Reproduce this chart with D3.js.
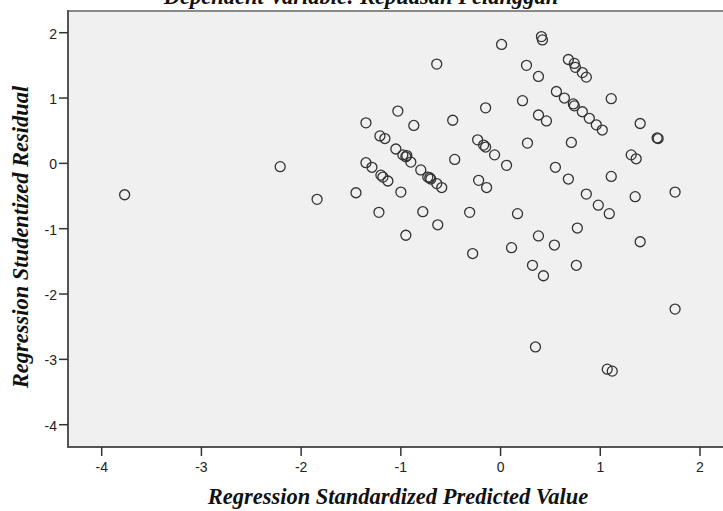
<!DOCTYPE html>
<html>
<head>
<meta charset="utf-8">
<script src="https://cdn.jsdelivr.net/npm/d3@7"></script>
<style>
  body { margin: 0; background: #fff; }
  svg { display: block; }
  .tick-label { font-family: "Liberation Sans", Arial, sans-serif; font-size: 14px; fill: #222; }
  .axis-title { font-family: "Liberation Serif", "Times New Roman", serif; font-weight: bold; font-style: italic; font-size: 22.5px; fill: #111; }
</style>
</head>
<body>
<svg id="chart" width="723" height="511"></svg>
<script>
// standardized predicted value (x) and studentized residual (y)
let predicted = [
  -3.77, -2.21, -1.84, -1.45, -1.35, -1.03, -0.87, -0.64, -0.48, -0.15,
  -1.21, -1.16, -1.05, -0.98, -0.95, -0.94, -0.90, -0.80, -0.73, -0.71, -0.70,
  -0.64, -0.59, -1.35, -1.29, -1.20, -1.18, -1.13, -1.00, -1.22,
  -0.78, -0.95, -0.63, -0.31, -0.28, -0.46, -0.23, -0.17, -0.15, -0.06,
  0.06, -0.22, -0.14, 0.01, 0.41, 0.42, 0.26, 0.38, 0.68, 0.74,
  0.75, 0.82, 0.86, 0.56, 0.64, 0.73, 0.74, 0.82, 0.89, 0.96,
  1.02, 1.11, 0.22, 0.38, 0.46, 1.40, 1.57, 1.58, 0.27, 0.71,
  1.31, 1.36, 0.55, 0.68, 1.11, 0.86, 0.98, 1.09, 1.35, 1.75,
  0.17, 0.38, 0.54, 0.11, 0.32, 0.43, 0.77, 0.76, 1.40, 1.75,
  0.35, 1.07, 1.12
];
let residual = [
  -0.48, -0.05, -0.55, -0.45, 0.62, 0.80, 0.58, 1.52, 0.66, 0.85,
  0.42, 0.38, 0.22, 0.13, 0.10, 0.12, 0.02, -0.10, -0.21, -0.22, -0.24,
  -0.31, -0.37, 0.01, -0.06, -0.18, -0.21, -0.27, -0.44, -0.75,
  -0.74, -1.10, -0.94, -0.75, -1.38, 0.06, 0.36, 0.28, 0.25, 0.13,
  -0.03, -0.26, -0.37, 1.82, 1.94, 1.89, 1.50, 1.33, 1.59, 1.53,
  1.47, 1.39, 1.32, 1.10, 1.00, 0.91, 0.88, 0.79, 0.69, 0.59,
  0.51, 0.99, 0.96, 0.74, 0.65, 0.61, 0.39, 0.38, 0.31, 0.32,
  0.13, 0.07, -0.06, -0.24, -0.20, -0.47, -0.64, -0.77, -0.51, -0.44,
  -0.77, -1.11, -1.25, -1.29, -1.56, -1.72, -0.99, -1.56, -1.20, -2.23,
  -2.81, -3.15, -3.18
];
let xTicks = [-4, -3, -2, -1, 0, 1, 2];
let yTicks = [2, 1, 0, -1, -2, -3, -4];

let titleText = 'Dependent Variable: Kepuasan Pelanggan';
let xTitle = 'Regression Standardized Predicted Value';
let yTitle = 'Regression Studentized Residual';

function ScatterPlot(svg) {
  // plot frame, right side runs past the picture edge like in the original crop
  let frame = {left: 68, top: 11, right: 732, bottom: 447};

  let x = d3.scaleLinear().domain([-4, 2]).range([101.7, 700]);
  let y = d3.scaleLinear().domain([2, -4]).range([32.7, 424.7]);

  svg.append('rect')
    .attr('x', frame.left)
    .attr('y', frame.top)
    .attr('width', frame.right - frame.left)
    .attr('height', frame.bottom - frame.top)
    .attr('fill', '#f0f0f0');

  // borders
  svg.append('line')
    .attr('x1', frame.left).attr('x2', frame.right)
    .attr('y1', frame.top).attr('y2', frame.top)
    .attr('stroke', '#8a8a8a').attr('stroke-width', 2);
  svg.append('line')
    .attr('x1', frame.left).attr('x2', frame.left)
    .attr('y1', frame.top - 1).attr('y2', frame.bottom + 1)
    .attr('stroke', '#555').attr('stroke-width', 2);
  svg.append('line')
    .attr('x1', frame.left - 1).attr('x2', frame.right)
    .attr('y1', frame.bottom).attr('y2', frame.bottom)
    .attr('stroke', '#555').attr('stroke-width', 2);

  // y axis ticks
  let yAxis = svg.append('g').attr('class', 'y-axis');
  yAxis.selectAll('line')
    .data(yTicks)
    .enter().append('line')
      .attr('x1', frame.left - 9).attr('x2', frame.left)
      .attr('y1', d => y(d)).attr('y2', d => y(d))
      .attr('stroke', '#333').attr('stroke-width', 1.5);
  yAxis.selectAll('text')
    .data(yTicks)
    .enter().append('text')
      .attr('class', 'tick-label')
      .attr('x', frame.left - 11)
      .attr('y', d => y(d) + 6)
      .attr('text-anchor', 'end')
      .text(d => d);

  // x axis ticks
  let xAxis = svg.append('g').attr('class', 'x-axis');
  xAxis.selectAll('line')
    .data(xTicks)
    .enter().append('line')
      .attr('x1', d => x(d)).attr('x2', d => x(d))
      .attr('y1', frame.bottom).attr('y2', frame.bottom + 9)
      .attr('stroke', '#333').attr('stroke-width', 1.5);
  xAxis.selectAll('text')
    .data(xTicks)
    .enter().append('text')
      .attr('class', 'tick-label')
      .attr('x', d => x(d))
      .attr('y', frame.bottom + 25)
      .attr('text-anchor', 'middle')
      .text(d => d);

  // points
  let points = predicted.map((d, i) => ({px: d, res: residual[i]}));
  svg.append('g')
    .selectAll('circle')
    .data(points)
    .enter().append('circle')
      .attr('cx', d => x(d.px))
      .attr('cy', d => y(d.res))
      .attr('r', 5)
      .attr('fill', 'none')
      .attr('stroke', '#333')
      .attr('stroke-width', 1.3);

  // titles (the chart title is cut by the top edge, as in the source image)
  svg.append('text')
    .attr('class', 'axis-title')
    .attr('x', 361).attr('y', 4)
    .attr('text-anchor', 'middle')
    .text(titleText);

  svg.append('text')
    .attr('class', 'axis-title')
    .attr('x', 398).attr('y', 504)
    .attr('text-anchor', 'middle')
    .text(xTitle);

  svg.append('text')
    .attr('class', 'axis-title')
    .attr('transform', 'translate(28,237) rotate(-90)')
    .attr('text-anchor', 'middle')
    .text(yTitle);

  return svg.node();
}

ScatterPlot(d3.select('#chart'));
</script>
</body>
</html>
